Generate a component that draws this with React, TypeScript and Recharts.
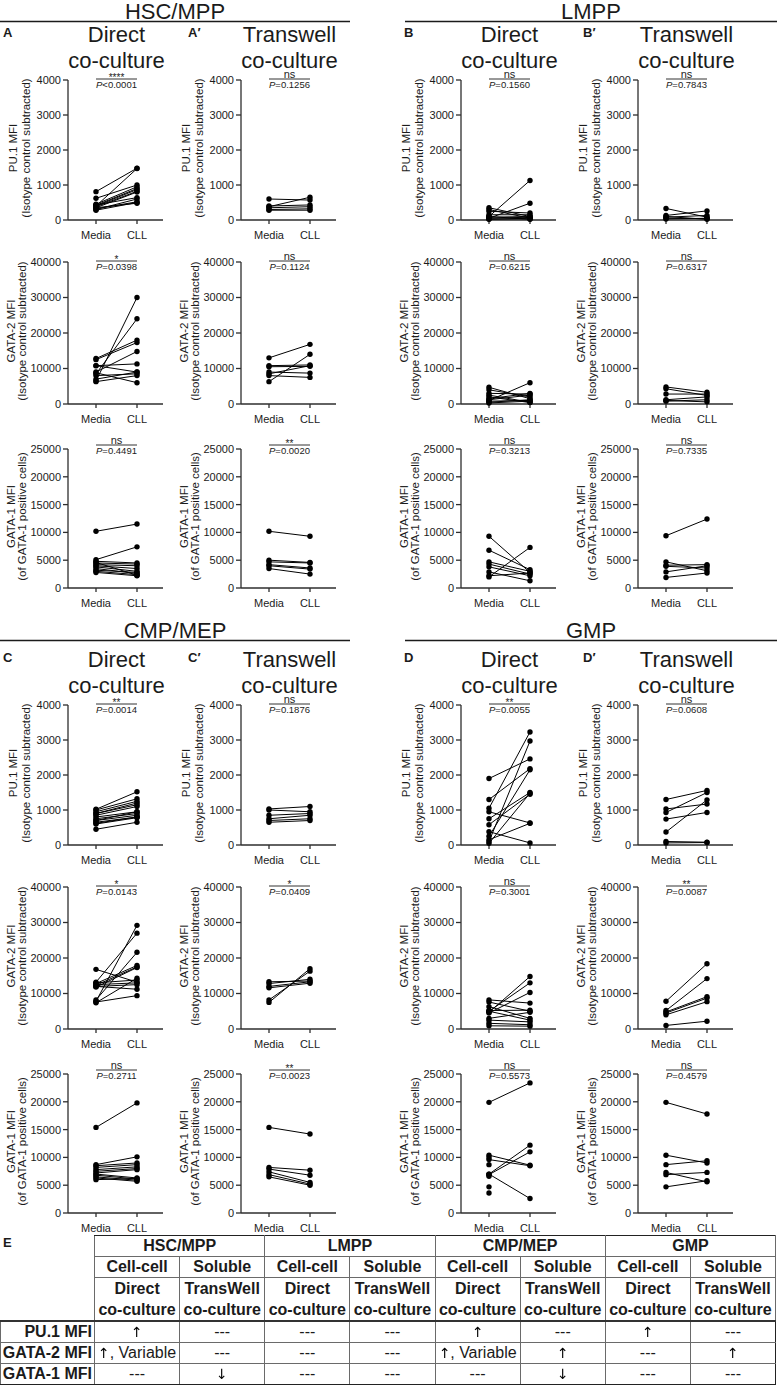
import { ScatterChart, Scatter, XAxis, YAxis } from 'recharts';

type Pair = [number, number | null];

// [Media, CLL] per donor
const hscDirectPu1: Pair[] = [[810, 1480], [400, 1470], [620, 1000], [450, 950], [420, 900], [400, 870], [380, 820], [350, 800], [430, 640], [300, 600], [320, 520], [350, 480], [280, 500]];
const hscDirectGata2: Pair[] = [[6500, 30000], [8500, 24000], [12800, 18000], [12500, 17300], [9000, 14800], [10800, 11300], [10800, 9000], [8000, 8500], [6300, 8000], [8800, 6000], [7000, 9000]];
const hscDirectGata1: Pair[] = [[10200, 11500], [5100, 7400], [4800, 4500], [4500, 4300], [4200, 4000], [4000, 3500], [3800, 3000], [3500, 2600], [3200, 2800], [3000, 2400], [2800, 2200], [4600, 2300]];
const hscTranswellPu1: Pair[] = [[600, 570], [380, 650], [400, 430], [350, 380], [300, 320], [280, 280]];
const hscTranswellGata2: Pair[] = [[13000, 16800], [6300, 14000], [10800, 11000], [10500, 10600], [8500, 10800], [9000, 8700], [8000, 7500]];
const hscTranswellGata1: Pair[] = [[10200, 9300], [5000, 4600], [4700, 4500], [4200, 3600], [4000, 3400], [3500, 2500]];

const lmppDirectPu1: Pair[] = [[100, 1130], [50, 480], [350, 100], [300, 50], [250, 200], [150, 150], [80, 100], [50, 80], [30, 30], [20, 50], [100, 20]];
const lmppDirectGata2: Pair[] = [[1000, 6000], [4700, 1500], [4000, 2000], [3000, 2800], [2500, 500], [1500, 3000], [800, 1000], [500, 1200], [300, 800], [1200, 2500], [2000, 400]];
const lmppDirectGata1: Pair[] = [[9300, 2800], [6800, 3300], [2000, 7300], [4700, 3000], [4300, 2500], [3800, 2200], [2900, 1300], [2200, 2700]];
const lmppTranswellPu1: Pair[] = [[330, 80], [130, 260], [80, 130], [50, 40], [30, 50], [100, 20]];
const lmppTranswellGata2: Pair[] = [[4800, 3300], [4300, 2400], [2800, 2800], [1200, 2000], [800, 1200], [1000, 600]];
const lmppTranswellGata1: Pair[] = [[9400, 12400], [4700, 3100], [4100, 4200], [3900, 3600], [2900, 4000], [1900, 2700]];

const cmpDirectPu1: Pair[] = [[1020, 1520], [1000, 1320], [950, 1250], [900, 1200], [850, 1100], [800, 950], [750, 900], [700, 850], [650, 800], [600, 780], [450, 650], [900, 1150], [700, 950], [620, 800]];
const cmpDirectGata2: Pair[] = [[16800, 13200], [7800, 29200], [13200, 27000], [8200, 21600], [12800, 17900], [12300, 17500], [11800, 17300], [7400, 14300], [13000, 13800], [12500, 13000], [12000, 11200], [7600, 9400], [12000, 12500]];
const cmpDirectGata1: Pair[] = [[15400, 19800], [8700, 10100], [8500, 9000], [8200, 8700], [7800, 8300], [7500, 8000], [7200, 7800], [7000, 6300], [6800, 6100], [6500, 5900], [6300, 5700], [6000, 6200]];
const cmpTranswellPu1: Pair[] = [[1030, 1100], [1000, 950], [850, 900], [750, 850], [700, 750], [650, 700]];
const cmpTranswellGata2: Pair[] = [[7500, 17000], [8200, 16300], [13300, 13500], [12800, 14000], [12000, 13300], [11600, 12900]];
const cmpTranswellGata1: Pair[] = [[15400, 14200], [8200, 7700], [7900, 6800], [7400, 5500], [6900, 5200], [6500, 5000]];

const gmpDirectPu1: Pair[] = [[1900, 2460], [1300, 2180], [1050, 3230], [950, 630], [750, 1500], [580, 1450], [380, 60], [250, 2150], [100, 2970], [50, 1480], [150, 620]];
const gmpDirectGata2: Pair[] = [[4700, 14800], [5000, 13000], [4500, 10300], [8200, 7300], [7600, 5000], [6300, 3000], [5200, 5300], [3000, 4700], [2500, 2000], [1600, 1200], [900, 800], [5000, 2500]];
const gmpDirectGata1: Pair[] = [[19900, 23400], [10400, 8600], [9600, 8500], [7000, 12200], [6900, 11000], [7000, 2600], [10000, null], [8700, null], [6600, null], [4700, null], [3600, null]];
const gmpTranswellPu1: Pair[] = [[1300, 1560], [1030, 1170], [930, 1500], [740, 930], [370, 1290], [100, 80], [60, 70]];
const gmpTranswellGata2: Pair[] = [[7800, 18400], [5200, 14200], [4800, 9100], [4500, 8700], [4000, 7700], [1000, 2200]];
const gmpTranswellGata1: Pair[] = [[19900, 17800], [10400, 9000], [8700, 9400], [7300, 5600], [6900, 7300], [4700, 5800]];

const panelPairs: Pair[][][] = [
  [hscDirectPu1, hscDirectGata2, hscDirectGata1],
  [hscTranswellPu1, hscTranswellGata2, hscTranswellGata1],
  [lmppDirectPu1, lmppDirectGata2, lmppDirectGata1],
  [lmppTranswellPu1, lmppTranswellGata2, lmppTranswellGata1],
  [cmpDirectPu1, cmpDirectGata2, cmpDirectGata1],
  [cmpTranswellPu1, cmpTranswellGata2, cmpTranswellGata1],
  [gmpDirectPu1, gmpDirectGata2, gmpDirectGata1],
  [gmpTranswellPu1, gmpTranswellGata2, gmpTranswellGata1],
];

const panelStars = [
  ['****', '*', 'ns'], ['ns', 'ns', '**'], ['ns', 'ns', 'ns'], ['ns', 'ns', 'ns'],
  ['**', '*', 'ns'], ['ns', '*', '**'], ['**', 'ns', 'ns'], ['ns', '**', 'ns'],
];
const panelP = [
  ['<0.0001', '=0.0398', '=0.4491'], ['=0.1256', '=0.1124', '=0.0020'],
  ['=0.1560', '=0.6215', '=0.3213'], ['=0.7843', '=0.6317', '=0.7335'],
  ['=0.0014', '=0.0143', '=0.2711'], ['=0.1876', '=0.0409', '=0.0023'],
  ['=0.0055', '=0.3001', '=0.5573'], ['=0.0608', '=0.0087', '=0.4579'],
];

const panelLetters = ['A', 'A\u2032', 'B', 'B\u2032', 'C', 'C\u2032', 'D', 'D\u2032'];
const sectionTitles = [['HSC/MPP', 'LMPP'], ['CMP/MEP', 'GMP']];
const cultureTitles = ['Direct', 'Transwell', 'Direct', 'Transwell'];
const markerNames = ['PU.1 MFI', 'GATA-2 MFI', 'GATA-1 MFI'];
const markerNotes = ['(Isotype control subtracted)', '(Isotype control subtracted)', '(of GATA-1 positive cells)'];
const markerTicks = [
  [0, 1000, 2000, 3000, 4000],
  [0, 10000, 20000, 30000, 40000],
  [0, 5000, 10000, 15000, 20000, 25000],
];
const xLabels = ['Media', 'CLL'];

const tableGroups = ['HSC/MPP', 'LMPP', 'CMP/MEP', 'GMP'];
const tableMechanisms = ['Cell-cell', 'Soluble'];
const tableMethods = ['Direct', 'TransWell'];
const tableRowLabels = ['PU.1 MFI', 'GATA-2 MFI', 'GATA-1 MFI'];
const tableCells = [
  ['\u2191', '---', '---', '---', '\u2191', '---', '\u2191', '---'],
  ['\u2191, Variable', '---', '---', '---', '\u2191, Variable', '\u2191', '---', '\u2191'],
  ['---', '\u2193', '---', '---', '---', '\u2193', '---', '---'],
];

const FONT = "'Liberation Sans', Arial, Helvetica, sans-serif";
const INK = '#1b1b1b';
const AXIS = '#2e2e2e';

const COL_X = [68, 241, 461, 638];
const ROW_TOP = [80, 262, 449];
const ROW_H = [140, 142, 139];
const HALF_DY = [0, 625];
const PLOT_W = 95;
const MEDIA_OFF = 28;
const CLL_OFF = 69;
const UNIT = CLL_OFF - MEDIA_OFF;
const X_MIN = 1 - MEDIA_OFF / UNIT;
const X_MAX = X_MIN + PLOT_W / UNIT;

const PAD_L = 70;
const PAD_T = 10;
const PAD_R = 10;
const X_H = 30;

const Dot = (props: any) => <circle cx={props.cx} cy={props.cy} r={2.7} fill="#000" />;

function PairPanel({ pairs, axisX, plotTop, plotH, ticks }: { pairs: Pair[]; axisX: number; plotTop: number; plotH: number; ticks: number[] }) {
  const series = pairs.map(([m, c]) => (c == null ? [{ x: 1, y: m }] : [{ x: 1, y: m }, { x: 2, y: c }]));
  return (
    <div style={{ position: 'absolute', left: axisX - PAD_L, top: plotTop - PAD_T }}>
      <ScatterChart
        width={PAD_L + PLOT_W + PAD_R}
        height={PAD_T + plotH + X_H}
        margin={{ top: PAD_T, right: PAD_R, bottom: 0, left: 0 }}
      >
        <XAxis
          type="number"
          dataKey="x"
          domain={[X_MIN, X_MAX]}
          ticks={[1, 2]}
          interval={0}
          tickFormatter={(v: number) => xLabels[v - 1]}
          height={X_H}
          axisLine={{ stroke: AXIS, strokeWidth: 1.3 }}
          tickLine={{ stroke: AXIS, strokeWidth: 1.3 }}
          tickSize={4}
          tickMargin={7}
          tick={{ fill: INK, fontSize: 11, fontFamily: FONT }}
        />
        <YAxis
          type="number"
          dataKey="y"
          domain={[0, ticks[ticks.length - 1]]}
          ticks={ticks}
          interval={0}
          width={PAD_L}
          axisLine={{ stroke: AXIS, strokeWidth: 1.3 }}
          tickLine={{ stroke: AXIS, strokeWidth: 1.3 }}
          tickSize={5}
          tickMargin={2}
          tick={{ fill: INK, fontSize: 11, fontFamily: FONT }}
        />
        {series.map((d, i) => (
          <Scatter key={i} data={d} fill="#000" shape={Dot} line={{ stroke: '#000', strokeWidth: 1 }} isAnimationActive={false} />
        ))}
      </ScatterChart>
    </div>
  );
}

function Overlay() {
  const items: any[] = [];
  [0, 1].forEach((half) => {
    const dy = HALF_DY[half];
    const titleBase = half ? 638 : 19;
    [[0, 350, 175], [405, 777, 591]].forEach(([x0, x1, cx], k) => {
      items.push(
        <text key={`st${half}${k}`} x={cx} y={titleBase} textAnchor="middle" fontSize={22} fill={INK}>
          {sectionTitles[half][k]}
        </text>,
        <line key={`sl${half}${k}`} x1={x0} x2={x1} y1={titleBase + 2.5} y2={titleBase + 2.5} stroke={INK} strokeWidth={1.5} />
      );
    });
    for (let col = 0; col < 4; col++) {
      const p = half * 4 + col;
      const ax = COL_X[col];
      const cx = ax + (MEDIA_OFF + CLL_OFF) / 2;
      const letterX = [3, 188, 404, 583][col];
      items.push(
        <text key={`pl${p}`} x={letterX} y={37 + dy} fontSize={13} fontWeight="bold" fill={INK}>
          {panelLetters[p]}
        </text>,
        <text key={`h1${p}`} x={cx} y={42 + dy} textAnchor="middle" fontSize={22} fill={INK}>
          {cultureTitles[col]}
        </text>,
        <text key={`h2${p}`} x={cx} y={68 + dy} textAnchor="middle" fontSize={22} fill={INK}>
          co-culture
        </text>
      );
      for (let row = 0; row < 3; row++) {
        const top = ROW_TOP[row] + dy;
        const h = ROW_H[row];
        const lineY = top - (row === 2 ? 4 : 1);
        const star = panelStars[p][row];
        const midY = top + h / 2 - 2;
        const bx1 = ax - (row === 0 ? 51 : 53);
        const bx2 = ax - (row === 0 ? 38.5 : 42);
        items.push(
          <text key={`s${p}${row}`} x={cx} y={star === 'ns' ? lineY - 1 : lineY + 2} textAnchor="middle" fontSize={star === 'ns' ? 11 : 10} fill={INK}>
            {star}
          </text>,
          <line key={`b${p}${row}`} x1={ax + MEDIA_OFF} x2={ax + CLL_OFF} y1={lineY} y2={lineY} stroke={INK} strokeWidth={0.9} />,
          <text key={`p${p}${row}`} x={cx} y={lineY + 8.5} textAnchor="middle" fontSize={9.5} fill={INK}>
            <tspan fontStyle="italic">P</tspan>
            {panelP[p][row]}
          </text>,
          <text key={`y1${p}${row}`} transform={`translate(${bx1},${midY}) rotate(-90)`} textAnchor="middle" fontSize={11.5} fill={INK}>
            {markerNames[row]}
          </text>,
          <text key={`y2${p}${row}`} transform={`translate(${bx2},${midY}) rotate(-90)`} textAnchor="middle" fontSize={11.5} fill={INK}>
            {markerNotes[row]}
          </text>
        );
      }
    }
  });
  items.push(
    <text key="E" x={3} y={1247} fontSize={13} fontWeight="bold" fill={INK}>
      E
    </text>
  );
  return (
    <svg width={777} height={1389} style={{ position: 'absolute', left: 0, top: 0, fontFamily: FONT, pointerEvents: 'none' }}>
      {items}
    </svg>
  );
}

const ARROW_FONT = "'DejaVu Sans', 'Liberation Sans', sans-serif";

function CellText({ value }: { value: string }) {
  const parts = value.split(/([\u2191\u2193])/).filter((s) => s !== '');
  return (
    <>
      {parts.map((s, i) =>
        s === '\u2191' || s === '\u2193' ? (
          <span
            key={i}
            style={{
              display: 'inline-block',
              fontFamily: ARROW_FONT,
              fontSize: 14,
              color: '#000',
              willChange: 'transform',
              transform: 'translateZ(0)',
            }}
          >
            {s + '\uFE0E'}
          </span>
        ) : (
          <span key={i}>{s}</span>
        )
      )}
    </>
  );
}

const cellBorder = '1px solid #6a6a6a';
const cell = (extra: any = {}) => ({
  border: cellBorder,
  padding: 0,
  height: 20,
  lineHeight: '20px',
  textAlign: 'center' as const,
  whiteSpace: 'nowrap' as const,
  overflow: 'hidden',
  ...extra,
});

function SummaryTable() {
  return (
    <table
      style={{
        position: 'absolute',
        left: 0,
        top: 1235,
        width: 775,
        borderCollapse: 'collapse',
        tableLayout: 'fixed',
        fontFamily: FONT,
        fontSize: 16,
        color: INK,
      }}
    >
      <colgroup>
        <col style={{ width: 94 }} />
        {tableGroups.flatMap((g) => [<col key={g + 'a'} style={{ width: 85.125 }} />, <col key={g + 'b'} style={{ width: 85.125 }} />])}
      </colgroup>
      <tbody>
        <tr>
          <td style={{ padding: 0, height: 20 }} />
          {tableGroups.map((g) => (
            <td key={g} colSpan={2} style={cell({ fontWeight: 'bold', borderTop: '1.5px solid #222' })}>
              {g}
            </td>
          ))}
        </tr>
        <tr>
          <td style={{ padding: 0, height: 20 }} />
          {tableGroups.flatMap((g) =>
            tableMechanisms.map((m) => (
              <td key={g + m} style={cell({ fontWeight: 'bold' })}>
                {m}
              </td>
            ))
          )}
        </tr>
        <tr>
          <td style={{ padding: 0, height: 20 }} />
          {tableGroups.flatMap((g) =>
            tableMethods.map((m) => (
              <td key={g + m} rowSpan={2} style={cell({ fontWeight: 'bold', height: 41, lineHeight: '21px' })}>
                <div>{m}</div>
                <div>co-culture</div>
              </td>
            ))
          )}
        </tr>
        <tr>
          <td style={{ padding: 0, height: 20 }} />
        </tr>
        {tableRowLabels.map((label, r) => (
          <tr key={label}>
            <td
              style={cell({
                fontWeight: 'bold',
                textAlign: 'right',
                paddingRight: 2,
                borderTop: r === 0 ? '2px solid #333' : cellBorder,
                borderBottom: r === 2 ? '1.5px solid #222' : cellBorder,
              })}
            >
              {label}
            </td>
            {tableCells[r].map((v, c) => (
              <td
                key={c}
                style={cell({
                  borderTop: r === 0 ? '2px solid #333' : cellBorder,
                  borderBottom: r === 2 ? '1.5px solid #222' : cellBorder,
                  borderRight: c === 7 ? '1.5px solid #222' : cellBorder,
                })}
              >
                <CellText value={v} />
              </td>
            ))}
          </tr>
        ))}
      </tbody>
    </table>
  );
}

export default function App() {
  return (
    <div style={{ position: 'absolute', left: 0, top: 0, width: 777, height: 1389, background: '#fff', fontFamily: FONT }}>
      {panelPairs.map((rows, p) => {
        const half = Math.floor(p / 4);
        const col = p % 4;
        return rows.map((pairs, row) => (
          <PairPanel
            key={`${p}-${row}`}
            pairs={pairs}
            axisX={COL_X[col]}
            plotTop={ROW_TOP[row] + HALF_DY[half]}
            plotH={ROW_H[row]}
            ticks={markerTicks[row]}
          />
        ));
      })}
      <Overlay />
      <SummaryTable />
    </div>
  );
}
